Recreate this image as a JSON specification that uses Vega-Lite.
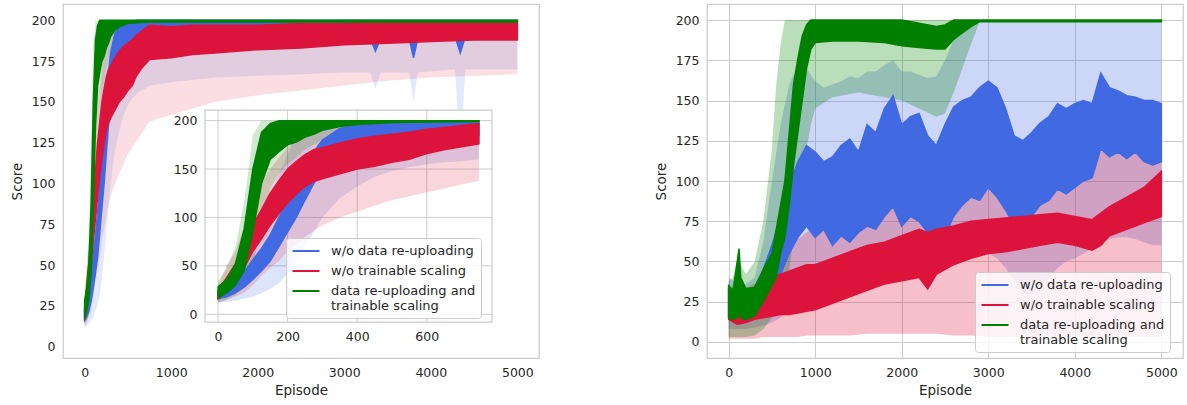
{
  "$schema": "https://vega.github.io/schema/vega-lite/v6.json",
  "padding": {"left": 9, "top": 3, "right": 4, "bottom": 4},
  "background": "white",
  "datasets": {
    "L": [
      {"s":"b","e":0,"lo":16,"hi":24,"bl":12,"bh":30},
      {"s":"b","e":25,"lo":18,"hi":28,"bl":13,"bh":36},
      {"s":"b","e":50,"lo":22,"hi":34,"bl":14,"bh":45},
      {"s":"b","e":75,"lo":28,"hi":44,"bl":16,"bh":60},
      {"s":"b","e":100,"lo":36,"hi":56,"bl":18,"bh":80},
      {"s":"b","e":125,"lo":45,"hi":68,"bl":22,"bh":100},
      {"s":"b","e":150,"lo":55,"hi":82,"bl":26,"bh":120},
      {"s":"b","e":175,"lo":70,"hi":100,"bl":32,"bh":145},
      {"s":"b","e":200,"lo":85,"hi":118,"bl":42,"bh":165},
      {"s":"b","e":225,"lo":100,"hi":135,"bl":55,"bh":185},
      {"s":"b","e":250,"lo":118,"hi":150,"bl":70,"bh":200},
      {"s":"b","e":275,"lo":135,"hi":168,"bl":85,"bh":200},
      {"s":"b","e":300,"lo":150,"hi":180,"bl":100,"bh":200},
      {"s":"b","e":350,"lo":165,"hi":192,"bl":120,"bh":200},
      {"s":"b","e":400,"lo":175,"hi":196,"bl":132,"bh":200},
      {"s":"b","e":450,"lo":180,"hi":198,"bl":142,"bh":200},
      {"s":"b","e":500,"lo":182,"hi":199,"bl":148,"bh":200},
      {"s":"b","e":550,"lo":183,"hi":199,"bl":152,"bh":200},
      {"s":"b","e":600,"lo":184,"hi":200,"bl":155,"bh":200},
      {"s":"b","e":650,"lo":184,"hi":200,"bl":157,"bh":200},
      {"s":"b","e":700,"lo":185,"hi":200,"bl":158,"bh":200},
      {"s":"b","e":750,"lo":185,"hi":200,"bl":160,"bh":200},
      {"s":"b","e":1000,"lo":186,"hi":200,"bl":162,"bh":200},
      {"s":"b","e":1500,"lo":187,"hi":200,"bl":165,"bh":200},
      {"s":"b","e":2000,"lo":188,"hi":200,"bl":166,"bh":200},
      {"s":"b","e":2500,"lo":188,"hi":200,"bl":167,"bh":200},
      {"s":"b","e":3000,"lo":189,"hi":200,"bl":168,"bh":200},
      {"s":"b","e":3300,"lo":189,"hi":200,"bl":168,"bh":200},
      {"s":"b","e":3360,"lo":181,"hi":200,"bl":158,"bh":200},
      {"s":"b","e":3420,"lo":189,"hi":200,"bl":168,"bh":200},
      {"s":"b","e":3750,"lo":189,"hi":200,"bl":168,"bh":200},
      {"s":"b","e":3800,"lo":177,"hi":200,"bl":150,"bh":200},
      {"s":"b","e":3850,"lo":189,"hi":200,"bl":168,"bh":200},
      {"s":"b","e":4280,"lo":190,"hi":200,"bl":170,"bh":200},
      {"s":"b","e":4340,"lo":180,"hi":200,"bl":118,"bh":200},
      {"s":"b","e":4400,"lo":190,"hi":200,"bl":170,"bh":200},
      {"s":"b","e":5000,"lo":190,"hi":200,"bl":170,"bh":200},
      {"s":"r","e":0,"lo":16,"hi":24,"bl":12,"bh":30},
      {"s":"r","e":25,"lo":24,"hi":38,"bl":15,"bh":50},
      {"s":"r","e":50,"lo":34,"hi":52,"bl":18,"bh":65},
      {"s":"r","e":75,"lo":48,"hi":72,"bl":22,"bh":90},
      {"s":"r","e":100,"lo":65,"hi":92,"bl":30,"bh":115},
      {"s":"r","e":125,"lo":78,"hi":108,"bl":40,"bh":135},
      {"s":"r","e":150,"lo":92,"hi":125,"bl":48,"bh":150},
      {"s":"r","e":175,"lo":104,"hi":138,"bl":55,"bh":162},
      {"s":"r","e":200,"lo":115,"hi":150,"bl":65,"bh":172},
      {"s":"r","e":225,"lo":124,"hi":158,"bl":72,"bh":180},
      {"s":"r","e":250,"lo":132,"hi":165,"bl":80,"bh":185},
      {"s":"r","e":275,"lo":137,"hi":170,"bl":86,"bh":190},
      {"s":"r","e":300,"lo":140,"hi":172,"bl":92,"bh":193},
      {"s":"r","e":350,"lo":145,"hi":177,"bl":100,"bh":196},
      {"s":"r","e":400,"lo":150,"hi":181,"bl":106,"bh":198},
      {"s":"r","e":450,"lo":153,"hi":184,"bl":112,"bh":200},
      {"s":"r","e":500,"lo":157,"hi":186,"bl":118,"bh":200},
      {"s":"r","e":550,"lo":160,"hi":188,"bl":122,"bh":200},
      {"s":"r","e":600,"lo":166,"hi":191,"bl":126,"bh":200},
      {"s":"r","e":650,"lo":170,"hi":193,"bl":130,"bh":200},
      {"s":"r","e":700,"lo":173,"hi":195,"bl":134,"bh":200},
      {"s":"r","e":750,"lo":176,"hi":197,"bl":138,"bh":200},
      {"s":"r","e":1000,"lo":177,"hi":196,"bl":142,"bh":200},
      {"s":"r","e":1250,"lo":179,"hi":197,"bl":146,"bh":200},
      {"s":"r","e":1500,"lo":180,"hi":197,"bl":150,"bh":200},
      {"s":"r","e":2000,"lo":182,"hi":197,"bl":154,"bh":200},
      {"s":"r","e":2500,"lo":183,"hi":198,"bl":157,"bh":200},
      {"s":"r","e":3000,"lo":185,"hi":198,"bl":160,"bh":200},
      {"s":"r","e":3500,"lo":186,"hi":199,"bl":163,"bh":200},
      {"s":"r","e":4000,"lo":187,"hi":199,"bl":165,"bh":200},
      {"s":"r","e":4500,"lo":188,"hi":199,"bl":166,"bh":200},
      {"s":"r","e":5000,"lo":188,"hi":199,"bl":167,"bh":200},
      {"s":"g","e":0,"lo":17,"hi":28,"bl":12,"bh":34},
      {"s":"g","e":25,"lo":22,"hi":36,"bl":15,"bh":48},
      {"s":"g","e":50,"lo":30,"hi":52,"bl":20,"bh":70},
      {"s":"g","e":75,"lo":45,"hi":88,"bl":28,"bh":115},
      {"s":"g","e":100,"lo":85,"hi":150,"bl":50,"bh":185},
      {"s":"g","e":125,"lo":135,"hi":188,"bl":95,"bh":200},
      {"s":"g","e":150,"lo":160,"hi":197,"bl":130,"bh":200},
      {"s":"g","e":175,"lo":168,"hi":200,"bl":145,"bh":200},
      {"s":"g","e":200,"lo":175,"hi":200,"bl":155,"bh":200},
      {"s":"g","e":225,"lo":178,"hi":200,"bl":162,"bh":200},
      {"s":"g","e":250,"lo":183,"hi":200,"bl":170,"bh":200},
      {"s":"g","e":275,"lo":186,"hi":200,"bl":175,"bh":200},
      {"s":"g","e":300,"lo":190,"hi":200,"bl":180,"bh":200},
      {"s":"g","e":350,"lo":194,"hi":200,"bl":186,"bh":200},
      {"s":"g","e":400,"lo":196,"hi":200,"bl":190,"bh":200},
      {"s":"g","e":450,"lo":197,"hi":200,"bl":192,"bh":200},
      {"s":"g","e":500,"lo":198,"hi":200,"bl":194,"bh":200},
      {"s":"g","e":600,"lo":198.5,"hi":200,"bl":196,"bh":200},
      {"s":"g","e":750,"lo":199,"hi":200,"bl":197,"bh":200},
      {"s":"g","e":1000,"lo":199,"hi":200,"bl":198,"bh":200},
      {"s":"g","e":5000,"lo":199,"hi":200,"bl":198,"bh":200}
    ],
    "R": [
      {"s":"b","e":0,"lo":15,"hi":35,"bl":8,"bh":40},
      {"s":"b","e":50,"lo":13,"hi":28,"bl":8,"bh":38},
      {"s":"b","e":100,"lo":13,"hi":27,"bl":8,"bh":36},
      {"s":"b","e":200,"lo":13,"hi":26,"bl":8,"bh":36},
      {"s":"b","e":300,"lo":15,"hi":30,"bl":9,"bh":40},
      {"s":"b","e":400,"lo":20,"hi":45,"bl":10,"bh":62},
      {"s":"b","e":500,"lo":30,"hi":60,"bl":12,"bh":100},
      {"s":"b","e":600,"lo":42,"hi":78,"bl":15,"bh":135},
      {"s":"b","e":700,"lo":55,"hi":98,"bl":20,"bh":160},
      {"s":"b","e":800,"lo":65,"hi":112,"bl":25,"bh":172},
      {"s":"b","e":900,"lo":72,"hi":122,"bl":30,"bh":170},
      {"s":"b","e":1000,"lo":65,"hi":118,"bl":40,"bh":162},
      {"s":"b","e":1100,"lo":70,"hi":112,"bl":40,"bh":158},
      {"s":"b","e":1200,"lo":60,"hi":115,"bl":42,"bh":160},
      {"s":"b","e":1300,"lo":66,"hi":122,"bl":42,"bh":162},
      {"s":"b","e":1400,"lo":62,"hi":126,"bl":44,"bh":165},
      {"s":"b","e":1500,"lo":68,"hi":118,"bl":45,"bh":164},
      {"s":"b","e":1600,"lo":72,"hi":135,"bl":46,"bh":168},
      {"s":"b","e":1700,"lo":70,"hi":130,"bl":48,"bh":168},
      {"s":"b","e":1800,"lo":78,"hi":145,"bl":50,"bh":172},
      {"s":"b","e":1900,"lo":84,"hi":153,"bl":52,"bh":175},
      {"s":"b","e":2000,"lo":72,"hi":135,"bl":50,"bh":168},
      {"s":"b","e":2100,"lo":78,"hi":140,"bl":50,"bh":168},
      {"s":"b","e":2200,"lo":75,"hi":142,"bl":48,"bh":166},
      {"s":"b","e":2300,"lo":68,"hi":128,"bl":45,"bh":164},
      {"s":"b","e":2400,"lo":58,"hi":122,"bl":42,"bh":165},
      {"s":"b","e":2500,"lo":66,"hi":135,"bl":45,"bh":175},
      {"s":"b","e":2600,"lo":78,"hi":146,"bl":48,"bh":188},
      {"s":"b","e":2700,"lo":85,"hi":150,"bl":50,"bh":196},
      {"s":"b","e":2800,"lo":90,"hi":152,"bl":52,"bh":200},
      {"s":"b","e":2900,"lo":88,"hi":158,"bl":55,"bh":200},
      {"s":"b","e":3000,"lo":96,"hi":162,"bl":55,"bh":200},
      {"s":"b","e":3100,"lo":90,"hi":158,"bl":52,"bh":200},
      {"s":"b","e":3200,"lo":82,"hi":145,"bl":46,"bh":200},
      {"s":"b","e":3300,"lo":72,"hi":128,"bl":38,"bh":200},
      {"s":"b","e":3400,"lo":70,"hi":125,"bl":30,"bh":200},
      {"s":"b","e":3500,"lo":78,"hi":130,"bl":30,"bh":200},
      {"s":"b","e":3600,"lo":85,"hi":136,"bl":34,"bh":200},
      {"s":"b","e":3700,"lo":88,"hi":140,"bl":40,"bh":200},
      {"s":"b","e":3800,"lo":95,"hi":148,"bl":46,"bh":200},
      {"s":"b","e":3900,"lo":92,"hi":145,"bl":50,"bh":200},
      {"s":"b","e":4000,"lo":96,"hi":148,"bl":52,"bh":200},
      {"s":"b","e":4100,"lo":100,"hi":150,"bl":55,"bh":200},
      {"s":"b","e":4200,"lo":102,"hi":148,"bl":58,"bh":200},
      {"s":"b","e":4300,"lo":120,"hi":167,"bl":62,"bh":200},
      {"s":"b","e":4400,"lo":115,"hi":158,"bl":64,"bh":200},
      {"s":"b","e":4500,"lo":118,"hi":156,"bl":65,"bh":200},
      {"s":"b","e":4600,"lo":114,"hi":153,"bl":65,"bh":200},
      {"s":"b","e":4700,"lo":118,"hi":152,"bl":64,"bh":200},
      {"s":"b","e":4800,"lo":112,"hi":150,"bl":62,"bh":200},
      {"s":"b","e":4900,"lo":110,"hi":150,"bl":60,"bh":200},
      {"s":"b","e":5000,"lo":112,"hi":148,"bl":60,"bh":200},
      {"s":"r","e":0,"lo":14,"hi":32,"bl":2,"bh":35},
      {"s":"r","e":100,"lo":11,"hi":30,"bl":2,"bh":33},
      {"s":"r","e":200,"lo":12,"hi":32,"bl":2,"bh":34},
      {"s":"r","e":300,"lo":14,"hi":34,"bl":2,"bh":36},
      {"s":"r","e":400,"lo":15,"hi":38,"bl":3,"bh":40},
      {"s":"r","e":500,"lo":16,"hi":40,"bl":3,"bh":48},
      {"s":"r","e":600,"lo":17,"hi":42,"bl":3,"bh":55},
      {"s":"r","e":700,"lo":17,"hi":44,"bl":3,"bh":60},
      {"s":"r","e":800,"lo":18,"hi":46,"bl":3,"bh":64},
      {"s":"r","e":900,"lo":19,"hi":48,"bl":4,"bh":68},
      {"s":"r","e":1000,"lo":20,"hi":48,"bl":4,"bh":72},
      {"s":"r","e":1200,"lo":24,"hi":52,"bl":4,"bh":76},
      {"s":"r","e":1400,"lo":28,"hi":56,"bl":4,"bh":80},
      {"s":"r","e":1600,"lo":32,"hi":60,"bl":5,"bh":82},
      {"s":"r","e":1800,"lo":36,"hi":62,"bl":5,"bh":84},
      {"s":"r","e":2000,"lo":38,"hi":66,"bl":5,"bh":86},
      {"s":"r","e":2200,"lo":40,"hi":70,"bl":5,"bh":88},
      {"s":"r","e":2300,"lo":33,"hi":68,"bl":5,"bh":90},
      {"s":"r","e":2400,"lo":42,"hi":70,"bl":5,"bh":92},
      {"s":"r","e":2600,"lo":48,"hi":72,"bl":4,"bh":100},
      {"s":"r","e":2800,"lo":52,"hi":75,"bl":4,"bh":105},
      {"s":"r","e":3000,"lo":55,"hi":76,"bl":3,"bh":108},
      {"s":"r","e":3200,"lo":56,"hi":77,"bl":3,"bh":110},
      {"s":"r","e":3400,"lo":58,"hi":78,"bl":3,"bh":110},
      {"s":"r","e":3600,"lo":60,"hi":79,"bl":3,"bh":112},
      {"s":"r","e":3800,"lo":62,"hi":80,"bl":3,"bh":114},
      {"s":"r","e":4000,"lo":60,"hi":78,"bl":3,"bh":115},
      {"s":"r","e":4200,"lo":57,"hi":76,"bl":3,"bh":116},
      {"s":"r","e":4300,"lo":60,"hi":80,"bl":3,"bh":118},
      {"s":"r","e":4400,"lo":66,"hi":84,"bl":3,"bh":120},
      {"s":"r","e":4600,"lo":70,"hi":90,"bl":3,"bh":124},
      {"s":"r","e":4800,"lo":74,"hi":96,"bl":3,"bh":128},
      {"s":"r","e":5000,"lo":78,"hi":106,"bl":3,"bh":130},
      {"s":"g","e":0,"lo":15,"hi":35,"bl":3,"bh":38},
      {"s":"g","e":50,"lo":14,"hi":32,"bl":3,"bh":40},
      {"s":"g","e":100,"lo":15,"hi":50,"bl":3,"bh":52},
      {"s":"g","e":120,"lo":18,"hi":58,"bl":3,"bh":58},
      {"s":"g","e":140,"lo":15,"hi":40,"bl":3,"bh":48},
      {"s":"g","e":200,"lo":14,"hi":33,"bl":3,"bh":42},
      {"s":"g","e":300,"lo":16,"hi":34,"bl":4,"bh":50},
      {"s":"g","e":400,"lo":25,"hi":45,"bl":8,"bh":75},
      {"s":"g","e":500,"lo":35,"hi":55,"bl":15,"bh":120},
      {"s":"g","e":550,"lo":40,"hi":70,"bl":20,"bh":160},
      {"s":"g","e":600,"lo":55,"hi":85,"bl":25,"bh":185},
      {"s":"g","e":650,"lo":65,"hi":100,"bl":35,"bh":200},
      {"s":"g","e":700,"lo":85,"hi":130,"bl":45,"bh":200},
      {"s":"g","e":750,"lo":110,"hi":160,"bl":65,"bh":200},
      {"s":"g","e":800,"lo":130,"hi":176,"bl":85,"bh":200},
      {"s":"g","e":850,"lo":150,"hi":190,"bl":105,"bh":200},
      {"s":"g","e":900,"lo":170,"hi":197,"bl":120,"bh":200},
      {"s":"g","e":950,"lo":182,"hi":200,"bl":135,"bh":200},
      {"s":"g","e":1000,"lo":186,"hi":200,"bl":145,"bh":200},
      {"s":"g","e":1200,"lo":187,"hi":200,"bl":152,"bh":200},
      {"s":"g","e":1500,"lo":187,"hi":200,"bl":155,"bh":200},
      {"s":"g","e":1800,"lo":186,"hi":200,"bl":152,"bh":200},
      {"s":"g","e":2000,"lo":184,"hi":200,"bl":150,"bh":200},
      {"s":"g","e":2200,"lo":183,"hi":198,"bl":145,"bh":200},
      {"s":"g","e":2400,"lo":182,"hi":196,"bl":140,"bh":200},
      {"s":"g","e":2500,"lo":182,"hi":197,"bl":142,"bh":200},
      {"s":"g","e":2600,"lo":188,"hi":200,"bl":155,"bh":200},
      {"s":"g","e":2700,"lo":192,"hi":200,"bl":170,"bh":200},
      {"s":"g","e":2800,"lo":196,"hi":200,"bl":185,"bh":200},
      {"s":"g","e":2900,"lo":199,"hi":200,"bl":199,"bh":200},
      {"s":"g","e":5000,"lo":199,"hi":200,"bl":199,"bh":200}
    ]
  },
  "hconcat": [
    {
      "width": 476,
      "height": 354,
      "layer": [
        {
          "data": {"name": "L"},
          "layer": [
            {
              "mark": {"type": "area", "fillOpacity": 0.14},
              "encoding": {
                "x": {"field": "e", "type": "quantitative", "scale": {"domain": [-250, 5250], "nice": false, "zero": false}, "axis": {"values": [0, 1000, 2000, 3000, 4000, 5000], "format": "d", "title": "Episode", "grid": false}},
                "y": {"field": "bl", "type": "quantitative", "scale": {"domain": [-7, 210], "nice": false, "zero": false}, "axis": {"values": [0, 25, 50, 75, 100, 125, 150, 175, 200], "title": "Score", "grid": false}},
                "y2": {"field": "bh"},
                "fill": {"field": "s", "type": "nominal", "scale": {"domain": ["b", "r", "g"], "range": ["#4169e1", "#dc143c", "#008000"]}}
              }
            },
            {
              "transform": [{"filter": "datum.s == 'b'"}],
              "mark": {"type": "area", "strokeWidth": 1.5},
              "encoding": {
                "x": {"field": "e", "type": "quantitative", "scale": {"domain": [-250, 5250], "nice": false, "zero": false}},
                "y": {"field": "lo", "type": "quantitative", "scale": {"domain": [-7, 210], "nice": false, "zero": false}},
                "y2": {"field": "hi"},
                "fill": {"field": "s", "type": "nominal", "scale": {"domain": ["b", "r", "g"], "range": ["#4169e1", "#dc143c", "#008000"]}},
                "stroke": {"field": "s", "type": "nominal", "scale": {"domain": ["b", "r", "g"], "range": ["#4169e1", "#dc143c", "#008000"]},
                  "legend": {"orient": "none", "legendX": 223, "legendY": 234, "title": null, "symbolType": "M-2,0H2", "symbolSize": 182, "symbolOffset": 7, "labelOffset": 17,
                    "labelExpr": "datum.value == 'b' ? 'w/o data re-uploading' : datum.value == 'r' ? 'w/o trainable scaling' : ['data re-uploading and', 'trainable scaling']"}}
              }
            },
            {
              "transform": [{"filter": "datum.s == 'r'"}],
              "mark": {"type": "area", "strokeWidth": 1.5},
              "encoding": {
                "x": {"field": "e", "type": "quantitative", "scale": {"domain": [-250, 5250], "nice": false, "zero": false}},
                "y": {"field": "lo", "type": "quantitative", "scale": {"domain": [-7, 210], "nice": false, "zero": false}},
                "y2": {"field": "hi"},
                "fill": {"field": "s", "type": "nominal", "scale": {"domain": ["b", "r", "g"], "range": ["#4169e1", "#dc143c", "#008000"]}},
                "stroke": {"field": "s", "type": "nominal", "scale": {"domain": ["b", "r", "g"], "range": ["#4169e1", "#dc143c", "#008000"]}}
              }
            },
            {
              "transform": [{"filter": "datum.s == 'g'"}],
              "mark": {"type": "area", "strokeWidth": 1.5},
              "encoding": {
                "x": {"field": "e", "type": "quantitative", "scale": {"domain": [-250, 5250], "nice": false, "zero": false}},
                "y": {"field": "lo", "type": "quantitative", "scale": {"domain": [-7, 210], "nice": false, "zero": false}},
                "y2": {"field": "hi"},
                "fill": {"field": "s", "type": "nominal", "scale": {"domain": ["b", "r", "g"], "range": ["#4169e1", "#dc143c", "#008000"]}},
                "stroke": {"field": "s", "type": "nominal", "scale": {"domain": ["b", "r", "g"], "range": ["#4169e1", "#dc143c", "#008000"]}}
              }
            }
          ]
        },
        {
          "layer": [
            {
              "data": {"values": [{"k": 1}]},
              "mark": {"type": "rect", "fill": "#ffffff", "stroke": "#cccccc", "strokeWidth": 1.25},
              "encoding": {
                "x": {"datum": -37.5, "type": "quantitative", "scale": {"domain": [-37.5, 787.5], "range": [142, 429], "nice": false, "zero": false},
                  "axis": {"orient": "bottom", "offset": -36, "values": [0, 200, 400, 600], "format": "d", "title": null, "grid": false}},
                "x2": {"datum": 787.5},
                "y": {"datum": -8, "type": "quantitative", "scale": {"domain": [-8, 211], "range": [318, 106], "nice": false, "zero": false},
                  "axis": {"orient": "left", "offset": -142, "values": [0, 50, 100, 150, 200], "title": null, "grid": false}},
                "y2": {"datum": 211}
              }
            },
            {
              "data": {"values": [{"v": 0}, {"v": 50}, {"v": 100}, {"v": 150}, {"v": 200}]},
              "mark": {"type": "rule", "color": "#cccccc", "strokeWidth": 1},
              "encoding": {
                "y": {"field": "v", "type": "quantitative", "scale": {"domain": [-8, 211], "range": [318, 106], "nice": false, "zero": false}},
                "x": {"datum": -37.5, "type": "quantitative", "scale": {"domain": [-37.5, 787.5], "range": [142, 429], "nice": false, "zero": false}},
                "x2": {"datum": 787.5}
              }
            },
            {
              "data": {"values": [{"v": 0}, {"v": 200}, {"v": 400}, {"v": 600}]},
              "mark": {"type": "rule", "color": "#cccccc", "strokeWidth": 1},
              "encoding": {
                "x": {"field": "v", "type": "quantitative", "scale": {"domain": [-37.5, 787.5], "range": [142, 429], "nice": false, "zero": false}},
                "y": {"datum": -8, "type": "quantitative", "scale": {"domain": [-8, 211], "range": [318, 106], "nice": false, "zero": false}},
                "y2": {"datum": 211}
              }
            },
            {
              "data": {"name": "L"},
              "transform": [{"filter": "datum.e <= 750"}],
              "mark": {"type": "area", "fillOpacity": 0.18},
              "encoding": {
                "x": {"field": "e", "type": "quantitative", "scale": {"domain": [-37.5, 787.5], "range": [142, 429], "nice": false, "zero": false}},
                "y": {"field": "bl", "type": "quantitative", "scale": {"domain": [-8, 211], "range": [318, 106], "nice": false, "zero": false}},
                "y2": {"field": "bh"},
                "fill": {"field": "s", "type": "nominal", "scale": {"domain": ["b", "r", "g"], "range": ["#4169e1", "#dc143c", "#008000"]}}
              }
            },
            {
              "data": {"name": "L"},
              "transform": [{"filter": "datum.e <= 750 && datum.s == 'b'"}],
              "mark": {"type": "area", "strokeWidth": 1.5},
              "encoding": {
                "x": {"field": "e", "type": "quantitative", "scale": {"domain": [-37.5, 787.5], "range": [142, 429], "nice": false, "zero": false}},
                "y": {"field": "lo", "type": "quantitative", "scale": {"domain": [-8, 211], "range": [318, 106], "nice": false, "zero": false}},
                "y2": {"field": "hi"},
                "fill": {"field": "s", "type": "nominal", "scale": {"domain": ["b", "r", "g"], "range": ["#4169e1", "#dc143c", "#008000"]}},
                "stroke": {"field": "s", "type": "nominal", "scale": {"domain": ["b", "r", "g"], "range": ["#4169e1", "#dc143c", "#008000"]}}
              }
            },
            {
              "data": {"name": "L"},
              "transform": [{"filter": "datum.e <= 750 && datum.s == 'r'"}],
              "mark": {"type": "area", "strokeWidth": 1.5},
              "encoding": {
                "x": {"field": "e", "type": "quantitative", "scale": {"domain": [-37.5, 787.5], "range": [142, 429], "nice": false, "zero": false}},
                "y": {"field": "lo", "type": "quantitative", "scale": {"domain": [-8, 211], "range": [318, 106], "nice": false, "zero": false}},
                "y2": {"field": "hi"},
                "fill": {"field": "s", "type": "nominal", "scale": {"domain": ["b", "r", "g"], "range": ["#4169e1", "#dc143c", "#008000"]}},
                "stroke": {"field": "s", "type": "nominal", "scale": {"domain": ["b", "r", "g"], "range": ["#4169e1", "#dc143c", "#008000"]}}
              }
            },
            {
              "data": {"name": "L"},
              "transform": [{"filter": "datum.e <= 750 && datum.s == 'g'"}],
              "mark": {"type": "area", "strokeWidth": 1.5},
              "encoding": {
                "x": {"field": "e", "type": "quantitative", "scale": {"domain": [-37.5, 787.5], "range": [142, 429], "nice": false, "zero": false}},
                "y": {"field": "lo", "type": "quantitative", "scale": {"domain": [-8, 211], "range": [318, 106], "nice": false, "zero": false}},
                "y2": {"field": "hi"},
                "fill": {"field": "s", "type": "nominal", "scale": {"domain": ["b", "r", "g"], "range": ["#4169e1", "#dc143c", "#008000"]}},
                "stroke": {"field": "s", "type": "nominal", "scale": {"domain": ["b", "r", "g"], "range": ["#4169e1", "#dc143c", "#008000"]}}
              }
            }
          ]
        }
      ],
      "resolve": {"scale": {"x": "independent", "y": "independent"}, "axis": {"x": "independent", "y": "independent"}}
    },
    {
      "width": 476,
      "height": 354,
      "data": {"name": "R"},
      "layer": [
        {
          "mark": {"type": "area", "fillOpacity": 0.27},
          "encoding": {
            "x": {"field": "e", "type": "quantitative", "scale": {"domain": [-250, 5250], "nice": false, "zero": false}, "axis": {"values": [0, 1000, 2000, 3000, 4000, 5000], "format": "d", "title": "Episode", "grid": true}},
            "y": {"field": "bl", "type": "quantitative", "scale": {"domain": [-10, 210], "nice": false, "zero": false}, "axis": {"values": [0, 25, 50, 75, 100, 125, 150, 175, 200], "title": "Score", "grid": true}},
            "y2": {"field": "bh"},
            "fill": {"field": "s", "type": "nominal", "scale": {"domain": ["b", "r", "g"], "range": ["#4169e1", "#dc143c", "#008000"]}}
          }
        },
        {
          "transform": [{"filter": "datum.s == 'b'"}],
          "mark": {"type": "area", "strokeWidth": 1.5},
          "encoding": {
            "x": {"field": "e", "type": "quantitative", "scale": {"domain": [-250, 5250], "nice": false, "zero": false}},
            "y": {"field": "lo", "type": "quantitative", "scale": {"domain": [-10, 210], "nice": false, "zero": false}},
            "y2": {"field": "hi"},
            "fill": {"field": "s", "type": "nominal", "scale": {"domain": ["b", "r", "g"], "range": ["#4169e1", "#dc143c", "#008000"]}},
            "stroke": {"field": "s", "type": "nominal", "scale": {"domain": ["b", "r", "g"], "range": ["#4169e1", "#dc143c", "#008000"]},
              "legend": {"orient": "none", "legendX": 268, "legendY": 268, "title": null, "symbolType": "M-2,0H2", "symbolSize": 182, "symbolOffset": 7, "labelOffset": 17,
                "labelExpr": "datum.value == 'b' ? 'w/o data re-uploading' : datum.value == 'r' ? 'w/o trainable scaling' : ['data re-uploading and', 'trainable scaling']"}}
          }
        },
        {
          "transform": [{"filter": "datum.s == 'r'"}],
          "mark": {"type": "area", "strokeWidth": 1.5},
          "encoding": {
            "x": {"field": "e", "type": "quantitative", "scale": {"domain": [-250, 5250], "nice": false, "zero": false}},
            "y": {"field": "lo", "type": "quantitative", "scale": {"domain": [-10, 210], "nice": false, "zero": false}},
            "y2": {"field": "hi"},
            "fill": {"field": "s", "type": "nominal", "scale": {"domain": ["b", "r", "g"], "range": ["#4169e1", "#dc143c", "#008000"]}},
            "stroke": {"field": "s", "type": "nominal", "scale": {"domain": ["b", "r", "g"], "range": ["#4169e1", "#dc143c", "#008000"]}}
          }
        },
        {
          "transform": [{"filter": "datum.s == 'g'"}],
          "mark": {"type": "area", "strokeWidth": 1.5},
          "encoding": {
            "x": {"field": "e", "type": "quantitative", "scale": {"domain": [-250, 5250], "nice": false, "zero": false}},
            "y": {"field": "lo", "type": "quantitative", "scale": {"domain": [-10, 210], "nice": false, "zero": false}},
            "y2": {"field": "hi"},
            "fill": {"field": "s", "type": "nominal", "scale": {"domain": ["b", "r", "g"], "range": ["#4169e1", "#dc143c", "#008000"]}},
            "stroke": {"field": "s", "type": "nominal", "scale": {"domain": ["b", "r", "g"], "range": ["#4169e1", "#dc143c", "#008000"]}}
          }
        }
      ]
    }
  ],
  "spacing": 168,
  "bounds": "flush",
  "resolve": {
    "scale": {"x": "independent", "y": "independent", "fill": "independent", "stroke": "independent"},
    "axis": {"x": "independent", "y": "independent"},
    "legend": {"stroke": "independent", "fill": "independent"}
  },
  "config": {
    "font": "DejaVu Sans",
    "view": {"stroke": "#cccccc", "strokeWidth": 1.25},
    "axis": {
      "domain": false, "ticks": false, "labelFont": "DejaVu Sans", "labelFontSize": 12.5, "labelColor": "#262626",
      "titleFont": "DejaVu Sans", "titleFontSize": 13.5, "titleColor": "#262626", "titleFontWeight": "normal",
      "gridColor": "#cccccc", "gridWidth": 1, "gridOpacity": 1, "labelPadding": 8, "labelFlush": false, "labelOverlap": false
    },
    "axisX": {"titlePadding": 5},
    "axisY": {"titlePadding": 7},
    "legend": {
      "labelFont": "DejaVu Sans", "labelFontSize": 13, "labelColor": "#262626", "labelLimit": 400,
      "symbolStrokeWidth": 2, "rowPadding": 5, "padding": 5,
      "fillColor": "rgba(255,255,255,0.8)", "strokeColor": "#cccccc", "cornerRadius": 3
    }
  }
}
